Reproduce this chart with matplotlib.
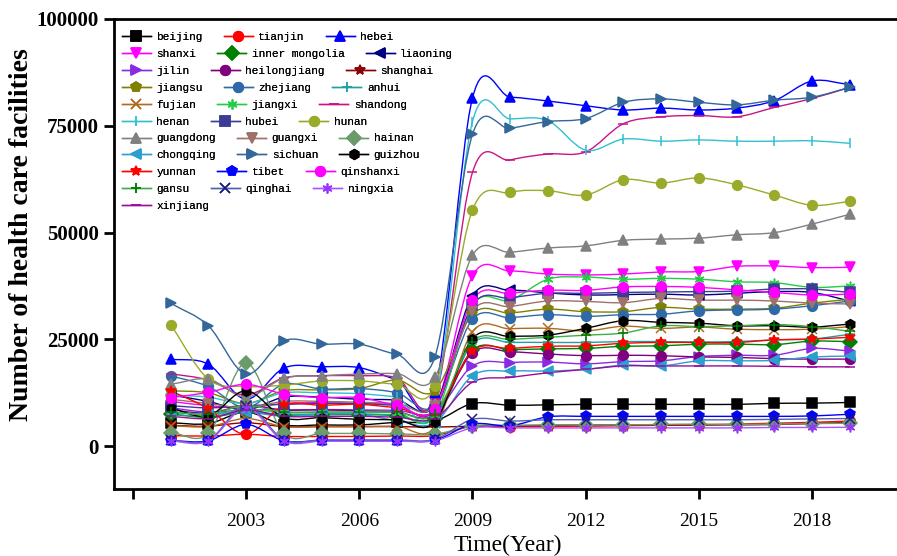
import numpy as np
import matplotlib
matplotlib.use("Agg")
import matplotlib.pyplot as plt
from matplotlib.path import Path
from matplotlib.patches import PathPatch
from matplotlib.lines import Line2D

years = list(range(2001, 2020))

provinces = ["beijing", "tianjin", "hebei", "shanxi", "inner mongolia", "liaoning",
             "jilin", "heilongjiang", "shanghai", "jiangsu", "zhejiang", "anhui",
             "fujian", "jiangxi", "shandong", "henan", "hubei", "hunan",
             "guangdong", "guangxi", "hainan", "chongqing", "sichuan", "guizhou",
             "yunnan", "tibet", "qinshanxi", "gansu", "qinghai", "ningxia", "xinjiang"]

beijing = [5500, 5300, 8000, 5000, 5000, 5000, 5600, 5900, 10000, 9600, 9700, 9800, 9800, 9800, 9800, 9800, 10050, 10100, 10250]
tianjin = [2500, 2400, 2800, 2300, 2300, 2300, 2400, 2500, 4700, 4600, 4650, 4700, 4800, 4900, 5000, 5200, 5400, 5600, 5900]
hebei = [20400, 19200, 11000, 18300, 18600, 18400, 15500, 12500, 81500, 81700, 80800, 79700, 78700, 79150, 78700, 79150, 80900, 85500, 84650]
shanxi = [10500, 9500, 9000, 10000, 10200, 10000, 9800, 9000, 39900, 41000, 40300, 40100, 40300, 40800, 40900, 42100, 42200, 41800, 41900]
inner_mongolia = [7500, 6800, 8000, 7300, 7400, 7400, 7200, 6500, 22500, 22600, 22800, 22900, 23400, 23500, 23900, 23900, 23800, 24600, 24500]
liaoning = [12000, 10500, 8500, 11500, 11500, 11000, 10800, 9500, 35200, 36500, 35900, 35400, 35500, 35600, 35400, 35800, 36200, 36000, 34000]
jilin = [9000, 8000, 8500, 8500, 8600, 8500, 8400, 8000, 18800, 19600, 19700, 19300, 19800, 20000, 21000, 21300, 21300, 22900, 22300]
heilongjiang = [8500, 7800, 9500, 8500, 8500, 8300, 8000, 7500, 21900, 22100, 21600, 21200, 21300, 21200, 20900, 20800, 20500, 20400, 20400]
shanghai = [4900, 4700, 5500, 4600, 4600, 4600, 4600, 4500, 4700, 4800, 4900, 5000, 5000, 5000, 5000, 5000, 5100, 5300, 5600]
jiangsu = [13000, 12500, 10000, 13000, 13200, 13500, 15500, 13000, 30900, 31200, 32100, 31500, 31500, 32500, 32100, 32100, 32300, 33500, 34400]
zhejiang = [16500, 14000, 9000, 14500, 13400, 13500, 12500, 9500, 29700, 30100, 30800, 30400, 30800, 30900, 31700, 31900, 32100, 32900, 34000]
anhui = [7500, 7000, 8000, 7500, 7600, 7600, 7300, 6800, 24000, 24300, 24300, 24300, 24500, 24500, 24400, 24500, 24900, 25100, 26200]
fujian = [4800, 4600, 6500, 4600, 4600, 4600, 4700, 4500, 26800, 27500, 27600, 27000, 28100, 27600, 27900, 27400, 27300, 27400, 28000]
jiangxi = [8000, 7500, 8500, 8000, 8000, 8000, 7800, 7000, 33000, 34200, 39100, 39600, 39100, 39300, 39100, 38500, 38300, 37200, 37500]
shandong = [17000, 15500, 12000, 16000, 16500, 16500, 16000, 11000, 64100, 67000, 68400, 68900, 75500, 77100, 77400, 77100, 79300, 81400, 84000]
henan = [12000, 11500, 10000, 12500, 12500, 12300, 11500, 10000, 76000, 76600, 76200, 69300, 71900, 71400, 71700, 71400, 71400, 71500, 70900]
hubei = [9500, 9000, 9500, 9800, 10000, 10000, 9500, 8500, 33000, 34700, 35800, 35800, 36000, 36100, 36200, 36300, 36800, 36800, 36000]
hunan = [28500, 15700, 14000, 14300, 15300, 15300, 14500, 14000, 55300, 59400, 59800, 58800, 62400, 61600, 62800, 61200, 58800, 56400, 57300]
guangdong = [14500, 15700, 11500, 15900, 16500, 16900, 17000, 16100, 44700, 45400, 46400, 46900, 48200, 48500, 48700, 49500, 50000, 52000, 54300]
guangxi = [11000, 10000, 9000, 10500, 10500, 10300, 10000, 9500, 31700, 32700, 34000, 33900, 33600, 34600, 34200, 34200, 34000, 33500, 33300]
hainan = [3200, 3000, 19500, 3000, 3000, 3000, 2900, 2800, 4800, 4900, 5000, 5000, 5000, 5100, 5200, 5100, 5200, 5300, 5400]
chongqing = [8000, 7500, 8000, 7000, 7500, 7500, 6000, 5500, 16500, 17600, 17600, 18000, 19000, 18800, 20000, 20000, 20100, 20900, 21100]
sichuan = [33500, 28200, 16900, 24700, 23900, 23900, 21500, 20800, 73000, 74400, 76000, 76700, 80500, 81300, 80500, 79900, 81000, 81700, 84000]
guizhou = [9000, 7100, 13000, 6700, 6700, 6300, 6200, 5700, 25200, 25700, 26000, 27600, 29400, 29000, 28800, 28200, 28200, 27900, 28600]
yunnan = [13000, 8800, 2800, 9600, 9600, 9800, 9000, 8000, 22300, 22900, 23400, 23500, 24100, 24300, 24300, 24300, 24900, 25100, 25500]
tibet = [1300, 1300, 5100, 1300, 1300, 1300, 1300, 1400, 5200, 4800, 6900, 7000, 7000, 7000, 7000, 7000, 7000, 7100, 7500]
qinshanxi = [11400, 12600, 14500, 12200, 11400, 11400, 9600, 8800, 34200, 35800, 36500, 36500, 37300, 37400, 37200, 36600, 36000, 35400, 35600]
gansu = [8000, 7500, 9500, 8000, 8000, 8000, 8000, 7500, 24500, 25000, 25500, 26000, 26500, 28200, 28000, 28200, 28500, 28000, 26900]
qinghai = [1400, 1400, 9500, 1500, 1500, 1500, 1500, 1600, 6300, 5900, 6200, 6200, 6200, 6200, 6200, 6200, 6300, 6400, 6500]
ningxia = [1200, 1200, 9000, 1200, 1200, 1200, 1200, 1300, 4300, 4300, 4300, 4300, 4300, 4300, 4300, 4300, 4400, 4400, 4450]
xinjiang = [7000, 6500, 8500, 7000, 7000, 7000, 6800, 6500, 15000, 16100, 17200, 18000, 18800, 18800, 18800, 18800, 18700, 18600, 18600]

series = [beijing, tianjin, hebei, shanxi, inner_mongolia, liaoning, jilin, heilongjiang,
          shanghai, jiangsu, zhejiang, anhui, fujian, jiangxi, shandong, henan, hubei,
          hunan, guangdong, guangxi, hainan, chongqing, sichuan, guizhou, yunnan, tibet,
          qinshanxi, gansu, qinghai, ningxia, xinjiang]

ast = (6, 2, 0)
# (marker, marker colour, line colour)
styles = [
    ("s", "black", "black"), ("o", "red", "red"), ("^", "blue", "blue"),
    ("v", "#ff00ff", "#ff00ff"), ("D", "#008000", "#008000"), ("<", "#000080", "#000080"),
    (">", "#8a2be2", "#8a2be2"), ("o", "#800080", "#800080"), ("*", "#8b0000", "#8b0000"),
    ("p", "#808000", "#808000"), ("o", "#2f6aa8", "#2f6aa8"), ("+", "#20a0a0", "#20a0a0"),
    ("x", "#b06a20", "#b06a20"), (ast, "#22cc44", "#22cc44"), ("_", "#c71585", "#c71585"),
    ("|", "#30c0d0", "#30c0d0"), ("s", "#3c3c96", "#3c3c96"), ("o", "#9aaa2a", "#9aaa2a"),
    ("^", "#808080", "#808080"), ("v", "#a0706a", "#a0706a"), ("D", "#6b9a6b", "#6b9a6b"),
    ("<", "#2a9fd0", "#2a9fd0"), (">", "#336699", "#336699"), ("h", "black", "black"),
    ("*", "red", "red"), ("p", "blue", "blue"), ("o", "#ff00ff", "#ff00ff"),
    ("+", "#007a00", "#3cb043"), ("x", "#1a1a80", "#5060b0"), (ast, "#9933ff", "#a855ff"),
    ("_", "#9a0d9a", "#9a0d9a"),
]


def smooth_path(x, y):
    # cubic bezier pieces through the points (Catmull-Rom tangents)
    x = np.asarray(x, float)
    y = np.asarray(y, float)
    n = len(x)
    d = np.empty(n)
    d[1:-1] = (y[2:] - y[:-2]) / (x[2:] - x[:-2])
    d[0] = (y[1] - y[0]) / (x[1] - x[0])
    d[-1] = (y[-1] - y[-2]) / (x[-1] - x[-2])
    verts = [(x[0], y[0])]
    codes = [Path.MOVETO]
    for i in range(n - 1):
        h = x[i + 1] - x[i]
        verts += [(x[i] + h / 3, y[i] + d[i] * h / 3),
                  (x[i + 1] - h / 3, y[i + 1] - d[i + 1] * h / 3),
                  (x[i + 1], y[i + 1])]
        codes += [Path.CURVE4] * 3
    return Path(verts, codes)


W, H = 897, 556
fig = plt.figure(figsize=(W / 100, H / 100), dpi=100)
ax = fig.add_axes([114 / W, 1 - 489 / H, (W - 114) / W, 470 / H])

handles = []
for name, vals, (mk, mc, lc) in zip(provinces, series, styles):
    ax.add_patch(PathPatch(smooth_path(years, vals), fill=False, edgecolor=lc, lw=1.0))
    ax.plot(years, vals, linestyle="none", marker=mk, color=mc, markersize=7,
            markeredgewidth=1.1)
    handles.append(Line2D([], [], color=lc, lw=1.0, marker=mk, markerfacecolor=mc,
                          markeredgecolor=mc, markersize=7, markeredgewidth=1.1, label=name))

ax.set_xlim(1999.5, 2020.25)
ax.set_ylim(-10000, 100000)
ax.set_xticks([2000, 2003, 2006, 2009, 2012, 2015, 2018])
ax.set_xticklabels(["", "2003", "2006", "2009", "2012", "2015", "2018"],
                   fontsize=14, family="Liberation Serif")
ax.set_yticks([0, 25000, 50000, 75000, 100000])
ax.set_yticklabels(["0", "25000", "50000", "75000", "100000"],
                   fontsize=15, family="Liberation Serif", fontweight="bold")
ax.tick_params(direction="out", length=7, width=2, pad=4)
ax.tick_params(axis="x", pad=10)
for s in ["left", "top", "bottom"]:
    ax.spines[s].set_linewidth(2)
ax.spines["right"].set_visible(False)

fig.text(508 / W, 1 - 545 / H, "Time(Year)", fontsize=17, family="Liberation Serif",
         ha="center", va="center")
fig.text(22 / W, 1 - 235 / H, "Number of health care facilities", fontsize=20,
         family="Liberation Serif", fontweight="bold", rotation=90,
         ha="center", va="center")

# legend laid out row by row
for r in range(0, len(handles), 3):
    row = handles[r:r + 3]
    yc = 37.3 + (r // 3) * 16.85
    leg = fig.legend(handles=row, ncol=3, loc="center left",
                     bbox_to_anchor=(122 / W, 1 - yc / H), frameon=False,
                     borderpad=0, borderaxespad=0, handlelength=2.6,
                     handletextpad=0.5, columnspacing=1.9,
                     prop={"family": "Liberation Mono", "size": 8})
    fig.add_artist(leg)

fig.savefig("out.png", dpi=100)
